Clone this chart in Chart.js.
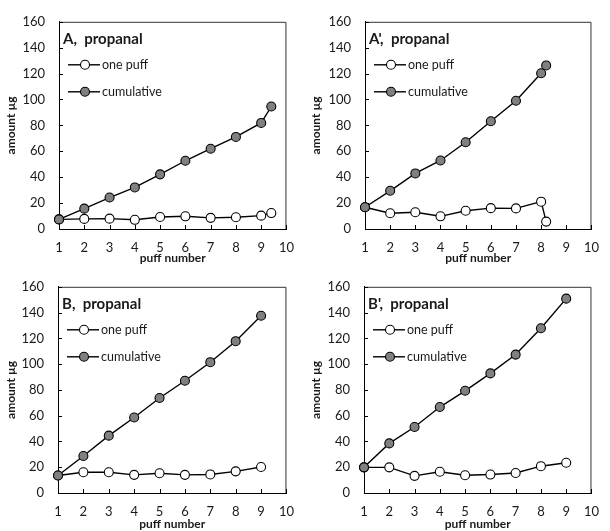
<!DOCTYPE html>
<html>
<head>
<meta charset="utf-8">
<script src="https://cdn.jsdelivr.net/npm/chart.js@4.4.1/dist/chart.umd.min.js"></script>
<style>
  body { margin: 0; background: #fff; }
  #wrap { position: relative; width: 610px; height: 531px; }
  #wrap canvas { position: absolute; }
</style>
</head>
<body>
<div id="wrap">
  <canvas id="pA" width="305" height="265" style="left:0;top:0"></canvas>
  <canvas id="pA2" width="305" height="265" style="left:305px;top:0"></canvas>
  <canvas id="pB" width="305" height="266" style="left:0;top:265px"></canvas>
  <canvas id="pB2" width="305" height="266" style="left:305px;top:265px"></canvas>
</div>
<script>
// puff number (x) and amounts in µg
const X_TICKS = [1, 10];
const Y_TICKS = [0, 160];

const puffsA = [1, 2, 3, 4, 5, 6, 7, 8, 9, 9.4];
const onePuffA = [7.4, 7.8, 8.0, 7.1, 9.3, 9.8, 8.6, 9.1, 10.3, 12.3];
const cumulativeA = [7.4, 15.7, 24.3, 32.1, 42.2, 52.7, 62.0, 71.1, 81.9, 94.6];

const puffsA2 = [1, 2, 3, 4, 5, 6, 7, 8, 8.2];
const onePuffA2 = [16.8, 12.2, 12.9, 9.8, 14.1, 16.1, 15.9, 21.1, 5.7];
const cumulativeA2 = [16.8, 29.5, 42.9, 52.9, 67.0, 83.2, 99.0, 120.3, 126.3];

const puffsB = [1, 2, 3, 4, 5, 6, 7, 8, 9];
const onePuffB = [13.6, 16.1, 16.1, 14.1, 15.3, 14.1, 14.4, 16.8, 20.2];
const cumulativeB = [13.6, 28.7, 44.5, 58.6, 73.7, 87.1, 101.5, 117.8, 137.5];

const puffsB2 = [1, 2, 3, 4, 5, 6, 7, 8, 9];
const onePuffB2 = [19.9, 19.9, 13.3, 16.5, 13.8, 14.3, 15.5, 20.8, 23.5];
const cumulativeB2 = [19.9, 38.5, 51.2, 66.7, 79.3, 92.8, 107.4, 127.8, 150.8];

const FONT = 'Lato, "Open Sans", sans-serif';
const INK = '#1a1a1a';
const GREY = '#808080';

const toPoints = (xs, ys) => xs.map((x, i) => ({ x, y: ys[i] }));

// frame, inward ticks, panel label and the in-plot legend
const panelDecor = (label) => ({
  id: 'panelDecor',
  beforeDatasetsDraw(chart) {
    const { ctx, chartArea: a, scales: { x, y } } = chart;
    ctx.save();
    ctx.strokeStyle = '#333';
    ctx.lineWidth = 1;
    ctx.beginPath();
    ctx.moveTo(a.left, a.top + 0.5);
    ctx.lineTo(a.right - 0.5, a.top + 0.5);
    ctx.lineTo(a.right - 0.5, a.bottom);
    ctx.stroke();

    ctx.strokeStyle = '#000';
    ctx.beginPath();
    x.ticks.forEach((t) => {
      const px = Math.round(x.getPixelForValue(t.value)) + 0.5;
      ctx.moveTo(px, a.bottom);
      ctx.lineTo(px, a.bottom - 4);
    });
    y.ticks.forEach((t) => {
      const py = Math.round(y.getPixelForValue(t.value)) + 0.5;
      ctx.moveTo(a.left, py);
      ctx.lineTo(a.left + 4, py);
    });
    ctx.stroke();
    ctx.restore();
  },
  afterDraw(chart) {
    const { ctx, chartArea: a } = chart;
    ctx.save();
    ctx.fillStyle = INK;
    ctx.textBaseline = 'alphabetic';
    ctx.font = `bold 15px ${FONT}`;
    ctx.fillText(label, a.left + 4, a.top + 22);

    const rows = [
      { text: 'one puff', fill: '#fff', dy: 43 },
      { text: 'cumulative', fill: GREY, dy: 70 },
    ];
    ctx.font = `12.5px ${FONT}`;
    ctx.textBaseline = 'middle';
    rows.forEach((r) => {
      const yy = a.top + r.dy;
      ctx.strokeStyle = '#000';
      ctx.lineWidth = 1.4;
      ctx.beginPath();
      ctx.moveTo(a.left + 9, yy);
      ctx.lineTo(a.left + 41, yy);
      ctx.stroke();
      ctx.beginPath();
      ctx.arc(a.left + 26, yy, 4.5, 0, Math.PI * 2);
      ctx.fillStyle = r.fill;
      ctx.fill();
      ctx.lineWidth = 1.1;
      ctx.stroke();
      ctx.fillStyle = INK;
      ctx.fillText(r.text, a.left + 43, yy);
    });
    ctx.restore();
  },
});

const makePanel = (id, box, label, xs, onePuff, cumulative) => {
  const el = document.getElementById(id);
  const W = el.width;
  const H = el.height;
  const series = (name, ys, fill) => ({
    label: name,
    data: toPoints(xs, ys),
    borderColor: '#000',
    borderWidth: 1.4,
    pointRadius: 4.5,
    pointBackgroundColor: fill,
    pointBorderColor: '#000',
    pointBorderWidth: 1.1,
    tension: 0,
    clip: false,
  });

  return new Chart(el, {
    type: 'line',
    data: {
      datasets: [
        series('cumulative', cumulative, GREY),
        series('one puff', onePuff, '#fff'),
      ],
    },
    options: {
      responsive: false,
      animation: false,
      layout: { padding: { left: 0, top: box.top, right: W - box.right, bottom: 0 } },
      plugins: { legend: { display: false }, tooltip: { enabled: false } },
      scales: {
        x: {
          type: 'linear',
          min: X_TICKS[0],
          max: X_TICKS[1],
          ticks: { stepSize: 1, padding: 11, color: INK, font: { family: FONT, size: 13 } },
          grid: { drawOnChartArea: false, drawTicks: false },
          border: { display: true, color: '#000', width: 1 },
          title: {
            display: true,
            text: 'puff number',
            color: INK,
            font: { family: FONT, size: 12, weight: 'bold' },
            padding: { top: 0, bottom: 0 },
          },
          afterFit: (s) => { s.height = H - box.bottom; },
        },
        y: {
          min: Y_TICKS[0],
          max: Y_TICKS[1],
          ticks: { stepSize: 20, padding: 14, color: INK, font: { family: FONT, size: 13 } },
          grid: { drawOnChartArea: false, drawTicks: false },
          border: { display: true, color: '#000', width: 1 },
          title: {
            display: true,
            text: 'amount µg',
            color: INK,
            font: { family: FONT, size: 12, weight: 'bold' },
            padding: { top: 4, bottom: 0 },
          },
          afterFit: (s) => { s.width = box.left; },
        },
      },
    },
    plugins: [panelDecor(label)],
  });
};

makePanel('pA', { left: 59, right: 297, top: 11, bottom: 229 }, 'A,  propanal', puffsA, onePuffA, cumulativeA);
makePanel('pA2', { left: 60, right: 297, top: 10, bottom: 229 }, "A',  propanal", puffsA2, onePuffA2, cumulativeA2);
makePanel('pB', { left: 58, right: 296, top: 8, bottom: 228 }, 'B,  propanal', puffsB, onePuffB, cumulativeB);
makePanel('pB2', { left: 59, right: 296, top: 8, bottom: 228 }, "B',  propanal", puffsB2, onePuffB2, cumulativeB2);
</script>
</body>
</html>
